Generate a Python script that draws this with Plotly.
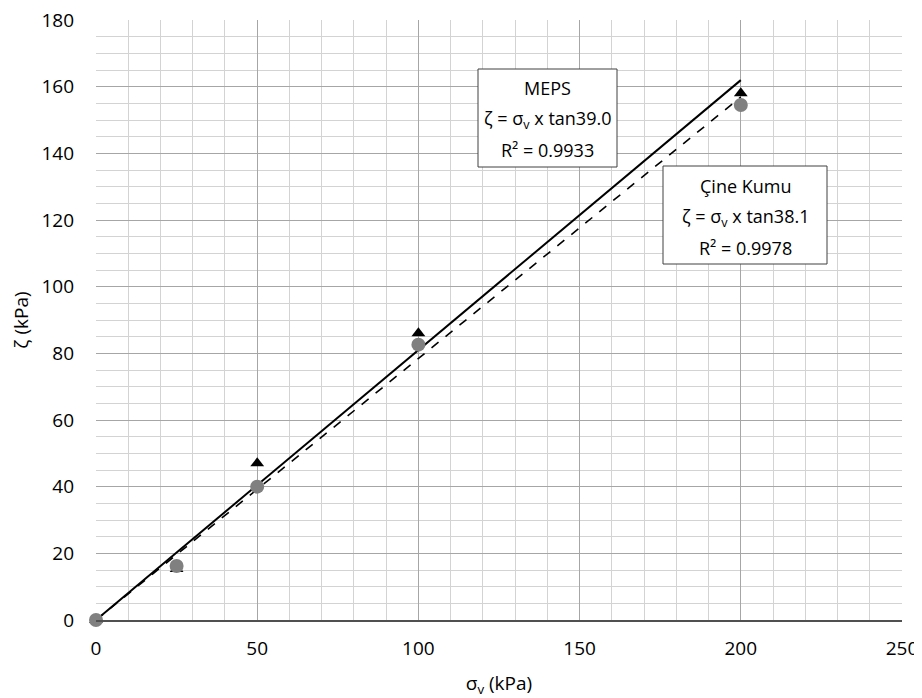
import plotly.graph_objects as go

# Data
sigma_v = [0, 25, 50, 100, 200]
meps_tau = [0, 15.3, 47.0, 86.0, 158.0]
cine_tau = [0, 16.2, 40.0, 82.6, 154.5]

fit_x = [0, 200]
meps_slope = 0.8098  # tan(39.0°)
cine_slope = 0.7844  # tan(38.1°)

x_ticks = [0, 50, 100, 150, 200, 250]
y_ticks = [0, 20, 40, 60, 80, 100, 120, 140, 160, 180]

meps_lines = ["MEPS", "ζ = σ<sub>v</sub> x tan39.0", "R² = 0.9933"]
cine_lines = ["Çine Kumu", "ζ = σ<sub>v</sub> x tan38.1", "R² = 0.9978"]

FONT = "Open Sans"

fig = go.Figure()

fig.add_trace(go.Scatter(
    x=fit_x, y=[v * meps_slope for v in fit_x], mode="lines",
    line=dict(color="black", width=2), showlegend=False, hoverinfo="skip"))
fig.add_trace(go.Scatter(
    x=fit_x, y=[v * cine_slope for v in fit_x], mode="lines",
    line=dict(color="black", width=1.6, dash="dash"), showlegend=False, hoverinfo="skip"))

fig.add_trace(go.Scatter(
    x=sigma_v, y=meps_tau, mode="markers", name="MEPS", cliponaxis=False,
    marker=dict(symbol="triangle-up", size=12, color="black"), showlegend=False))
fig.add_trace(go.Scatter(
    x=sigma_v, y=cine_tau, mode="markers", name="Çine Kumu", cliponaxis=False,
    marker=dict(symbol="circle", size=14, color="#808080"), showlegend=False))


def text_box(x0, x1, y0, y1, lines, line_ys, xc):
    fig.add_shape(type="rect", xref="paper", yref="paper",
                  x0=x0, x1=x1, y0=y0, y1=y1,
                  line=dict(color="#404040", width=1), fillcolor="white", layer="above")
    for t, yy in zip(lines, line_ys):
        fig.add_annotation(x=xc, y=yy, xref="paper", yref="paper", showarrow=False,
                           text=t, font=dict(family=FONT, size=18, color="black"),
                           xanchor="center", yanchor="middle")


# plot area in page pixels: x 96..902, y 20..620
def px(x):
    return (x - 96) / 806.0


def py(y):
    return (620 - y) / 600.0


text_box(px(478), px(617), py(167), py(69), meps_lines,
         [py(88), py(120), py(150)], px(547.5))
text_box(px(663), px(827), py(264), py(166), cine_lines,
         [py(186), py(218), py(248)], px(745))

fig.update_layout(
    width=914, height=690,
    margin=dict(l=88, r=20, t=12, b=78, autoexpand=False),
    paper_bgcolor="white", plot_bgcolor="white",
    font=dict(family=FONT, size=19, color="black"),
    xaxis=dict(
        range=[0, 250], tickvals=x_ticks, ticks="", automargin=False,
        ticklabelstandoff=10, ticklabeloverflow="allow",
        showgrid=True, gridcolor="#a6a6a6", gridwidth=1,
        minor=dict(dtick=10, showgrid=True, gridcolor="#d3d3d3", gridwidth=1),
        showline=True, linecolor="#505050", linewidth=1.5,
        zeroline=False, mirror=False,
        title=dict(text="σ<sub>v</sub> (kPa)", font=dict(family=FONT, size=19), standoff=18),
        tickfont=dict(family=FONT, size=19)),
    yaxis=dict(
        range=[0, 180], tickvals=y_ticks, ticks="", automargin=False,
        ticklabelstandoff=21, ticklabeloverflow="allow",
        showgrid=True, gridcolor="#a6a6a6", gridwidth=1,
        minor=dict(dtick=5, showgrid=True, gridcolor="#d3d3d3", gridwidth=1),
        showline=False, zeroline=False,
        title=dict(text="ζ (kPa)", font=dict(family=FONT, size=19), standoff=8),
        tickfont=dict(family=FONT, size=19)),
)

fig.write_html("out.html")
